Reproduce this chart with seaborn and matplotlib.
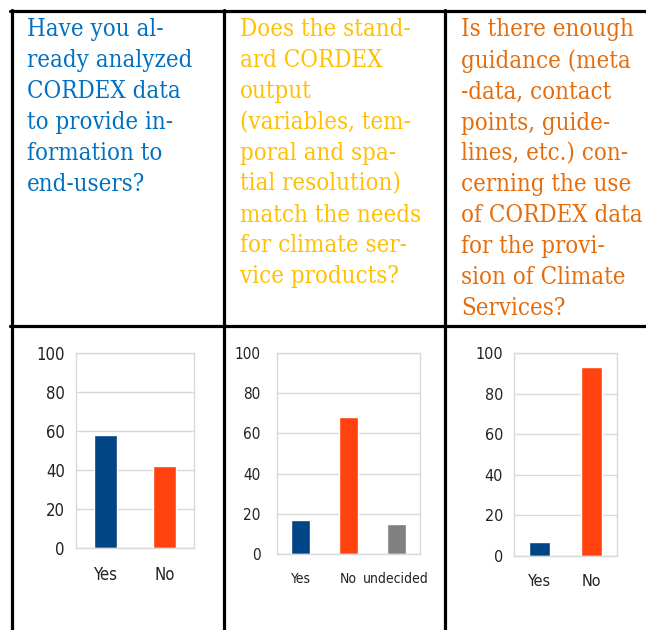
import pandas as pd
import matplotlib.pyplot as plt
import seaborn as sns
from matplotlib.lines import Line2D

# survey answers in percent
q1_answers = ['Yes', 'No']
q1_values = [58, 42]
q2_answers = ['Yes', 'No', 'undecided']
q2_values = [17, 68, 15]
q3_answers = ['Yes', 'No']
q3_values = [7, 93]

yticks = [0, 20, 40, 60, 80, 100]

q1_text = ["Have you al-", "ready analyzed", "CORDEX data", "to provide in-",
           "formation to", "end-users?"]
q2_text = ["Does the stand-", "ard CORDEX", "output", "(variables, tem-",
           "poral and spa-", "tial resolution)", "match the needs",
           "for climate ser-", "vice products?"]
q3_text = ["Is there enough", "guidance (meta", "-data, contact", "points, guide-",
           "lines, etc.) con-", "cerning the use", "of CORDEX data",
           "for the provi-", "sion of Climate", "Services?"]

colors = {'Yes': '#004586', 'No': '#ff420e', 'undecided': '#808080'}

sns.set_theme(style="white")
plt.rcParams['font.family'] = ['DejaVu Sans']
plt.rcParams['font.stretch'] = 'condensed'

W, H = 646, 630
fig = plt.figure(figsize=(W / 100, H / 100), dpi=100)


def px_axes(x0, y0, x1, y1):
    return fig.add_axes([x0 / W, 1 - y1 / H, (x1 - x0) / W, (y1 - y0) / H])


# table grid
lw = 2.3
for x in [12, 224, 445]:
    fig.add_artist(Line2D([x / W, x / W], [0, 1 - 10 / H], color='black', lw=lw))
for y in [11, 326]:
    fig.add_artist(Line2D([10 / W, 1], [1 - y / H, 1 - y / H], color='black', lw=lw))

# header questions
for x, lines, col in [(27, q1_text, '#0070c0'), (240, q2_text, '#ffc000'),
                      (461, q3_text, '#e46c0a')]:
    fig.text(x / W, 1 - 18 / H, "\n".join(lines), ha='left', va='top',
             fontsize=17.2, color=col, family='DejaVu Serif',
             fontstretch='condensed', linespacing=1.44)

# (answers, values, axes box in px, y label size, x label size, y pad)
charts = [
    (q1_answers, q1_values, (76, 353, 194, 548), 12, 12, 8),
    (q2_answers, q2_values, (277, 353, 420, 554), 11, 10, 12),
    (q3_answers, q3_values, (514, 353, 617, 556), 11.5, 11.5, 8),
]

for answers, values, box, yfs, xfs, ypad in charts:
    ax = px_axes(*box)
    df = pd.DataFrame({'answer': answers, 'percent': values})
    sns.barplot(data=df, x='answer', y='percent', hue='answer', palette=colors,
                width=0.4, legend=False, ax=ax, saturation=1)
    ax.set_ylim(0, 100)
    ax.set_yticks(yticks)
    ax.yaxis.grid(True, color='#d9d9d9', lw=1)
    ax.set_axisbelow(True)
    for s in ax.spines.values():
        s.set_color('#d9d9d9')
        s.set_linewidth(1)
    ax.set_xlabel('')
    ax.set_ylabel('')
    ax.tick_params(axis='y', length=0, pad=ypad, labelsize=yfs, labelcolor='#222222')
    ax.tick_params(axis='x', length=0, pad=13, labelsize=xfs, labelcolor='#222222')

plt.savefig('out.png', dpi=100)
